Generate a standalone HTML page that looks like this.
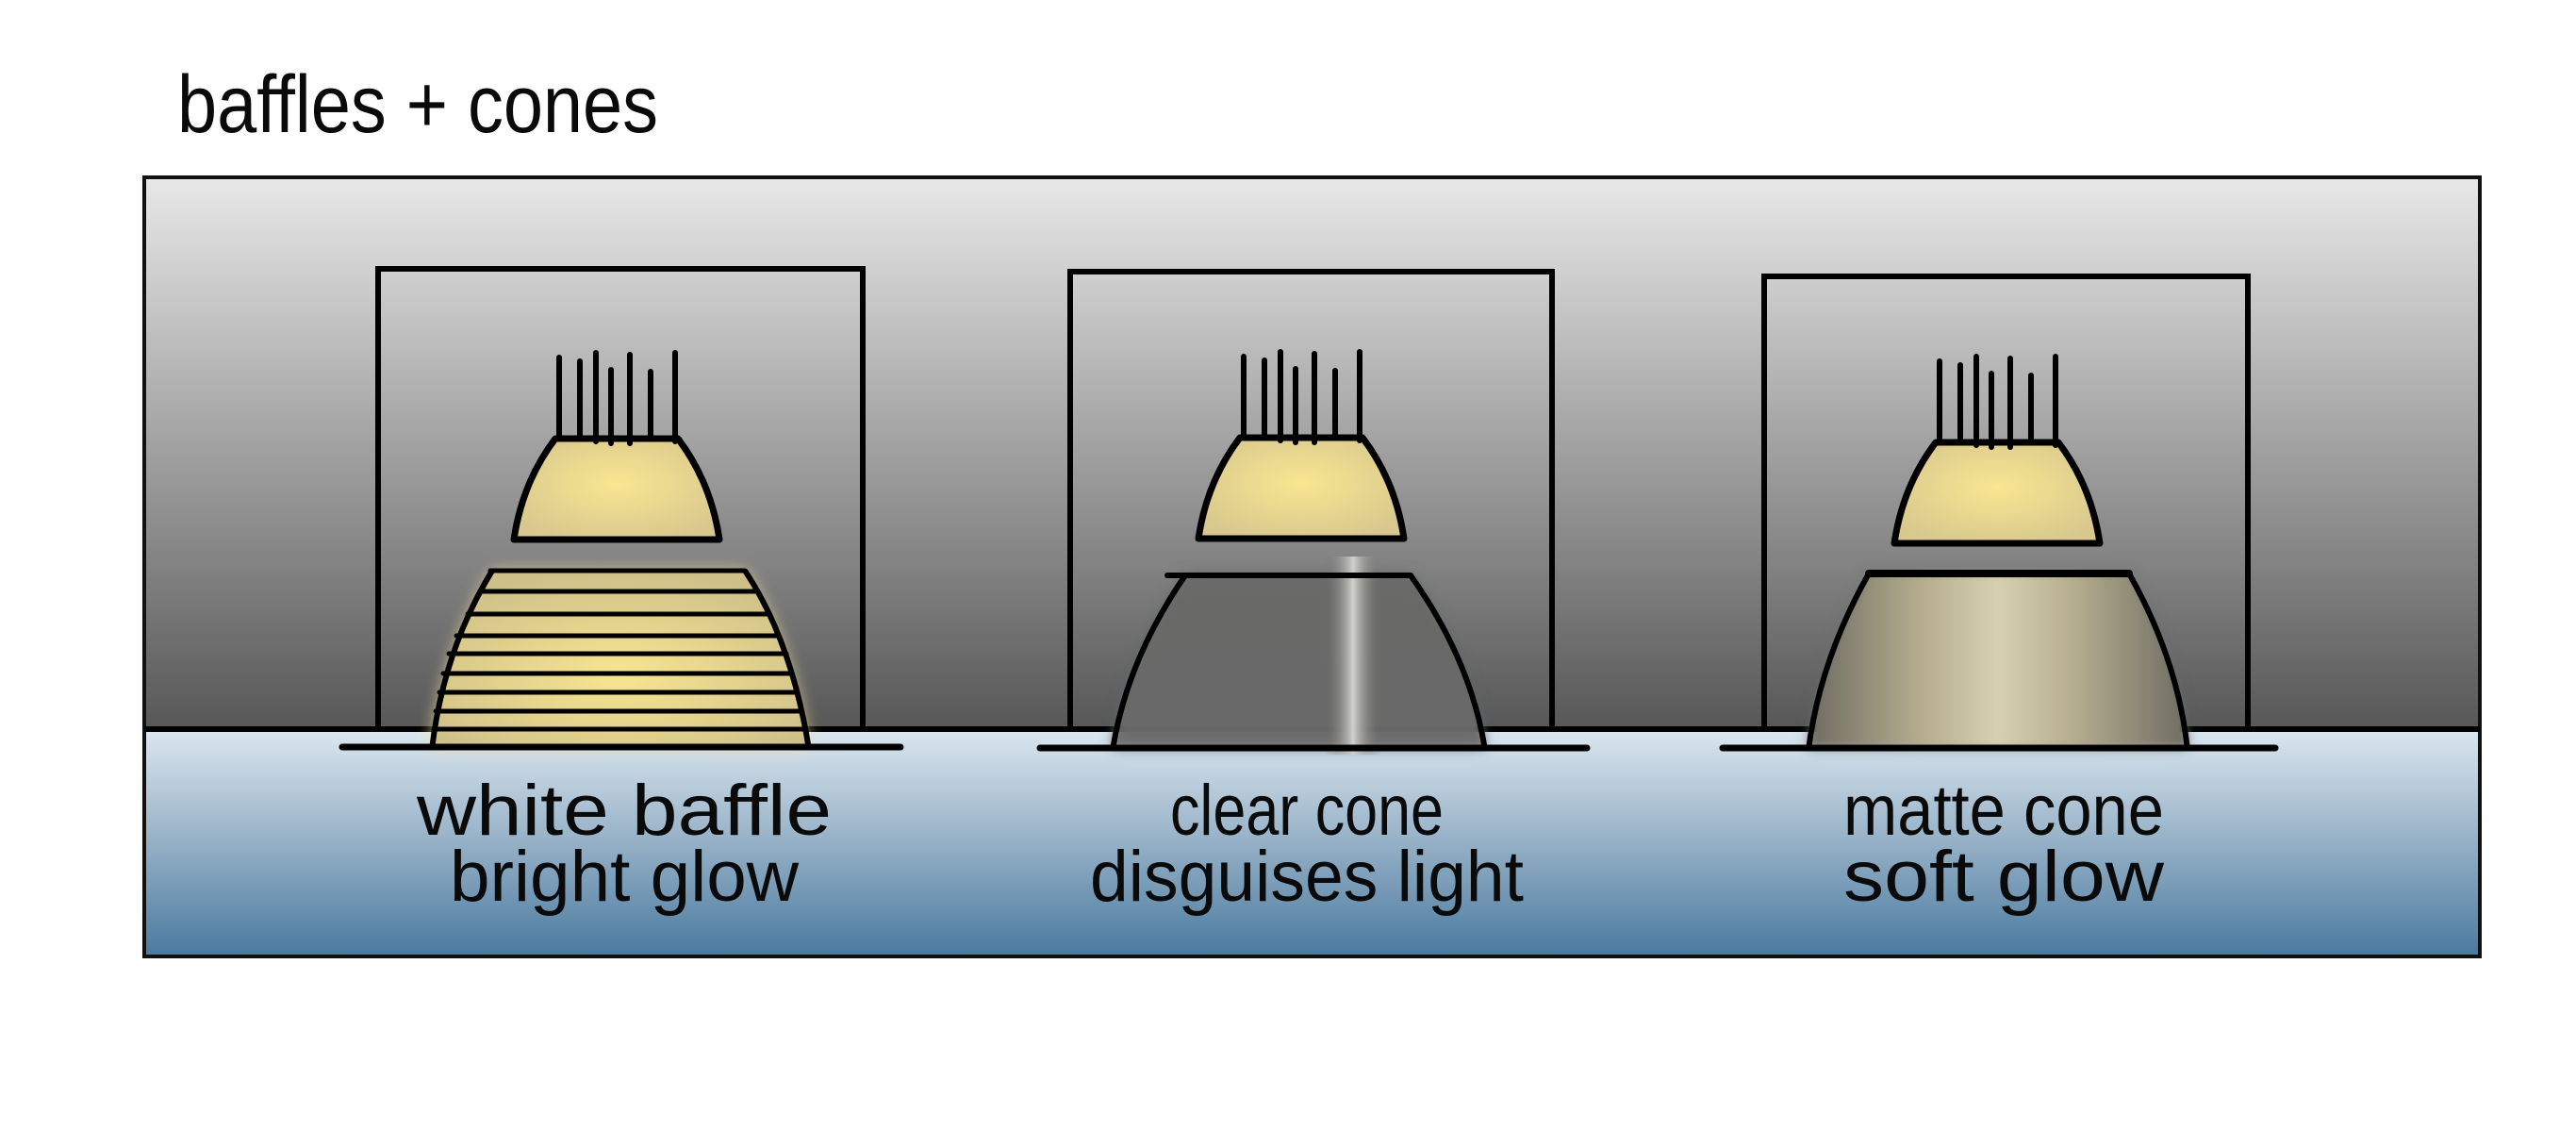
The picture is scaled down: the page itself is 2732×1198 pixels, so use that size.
<!DOCTYPE html>
<html><head><meta charset="utf-8"><style>
html,body{margin:0;padding:0;background:#fff;}
svg{display:block;}
text{font-family:"Liberation Sans Narrow","Liberation Sans",sans-serif;fill:#0a0a0a;}
</style></head><body>
<svg width="2732" height="1198" viewBox="0 0 2732 1198" xmlns="http://www.w3.org/2000/svg">
<defs>
<linearGradient id="ceil" x1="0" y1="0" x2="0" y2="1">
<stop offset="0" stop-color="#e8e8e8"/><stop offset="1" stop-color="#575757"/></linearGradient>
<linearGradient id="floor" x1="0" y1="0" x2="0" y2="1">
<stop offset="0" stop-color="#dce7f0"/><stop offset="0.5" stop-color="#95b0c6"/><stop offset="1" stop-color="#4a7a9f"/></linearGradient>
<radialGradient id="lamp" cx="0.5" cy="0.45" r="0.6">
<stop offset="0" stop-color="#f8e690"/><stop offset="1" stop-color="#d8c88e"/></radialGradient>
<radialGradient id="baf" cx="0.5" cy="0.6" r="0.6">
<stop offset="0" stop-color="#f8e690"/><stop offset="1" stop-color="#cfc08a"/></radialGradient>
<linearGradient id="matte" x1="0" y1="0" x2="1" y2="0">
<stop offset="0" stop-color="#6f6c62"/><stop offset="0.3" stop-color="#b5ad8e"/><stop offset="0.5" stop-color="#d8d1b0"/><stop offset="0.7" stop-color="#b5ad8e"/><stop offset="1" stop-color="#6f6c62"/></linearGradient>
<linearGradient id="stripe" x1="0" y1="0" x2="1" y2="0">
<stop offset="0" stop-color="#6c6c68" stop-opacity="0"/><stop offset="0.5" stop-color="#d0d0cc"/><stop offset="1" stop-color="#6c6c68" stop-opacity="0"/></linearGradient>
<filter id="blur" x="-20%" y="-20%" width="140%" height="140%"><feGaussianBlur stdDeviation="8"/></filter>
<filter id="blur2" x="-20%" y="-20%" width="140%" height="140%"><feGaussianBlur stdDeviation="4"/></filter>
</defs>

<text x="188" y="140" font-size="86" textLength="510" lengthAdjust="spacingAndGlyphs">baffles + cones</text>

<rect x="153" y="188" width="2477" height="585" fill="url(#ceil)"/>
<rect x="153" y="773" width="2477" height="241" fill="url(#floor)"/>
<rect x="153" y="188" width="2477" height="826" fill="none" stroke="#111" stroke-width="4"/>
<line x1="153" y1="773" x2="2630" y2="773" stroke="#000" stroke-width="6"/>

<g fill="none" stroke="#000" stroke-width="6" stroke-linecap="round">
<polyline points="401,773 401,285 915,285 915,773"/>
<polyline points="1135,773 1135,288 1646,288 1646,773"/>
<polyline points="1871,773 1871,293 2384,293 2384,773"/>
</g>

<!-- fixture 1 baffle -->
<path d="M522,605 L790,605 Q840,680 858,792 L456,792 Q470,690 522,605 Z" fill="#f3e39a" opacity="0.8" filter="url(#blur)"/>
<path d="M522,605 L790,605 Q840,680 858,792 L456,792 Q470,690 522,605 Z" fill="url(#baf)"/>
<g stroke="#000" stroke-width="5" stroke-linecap="round">
<line x1="520" y1="605" x2="790" y2="605"/>
<line x1="510" y1="627" x2="802" y2="627"/>
<line x1="496" y1="651" x2="814" y2="651"/>
<line x1="484" y1="674" x2="826" y2="674"/>
<line x1="476" y1="693" x2="834" y2="693"/>
<line x1="470" y1="714" x2="840" y2="714"/>
<line x1="466" y1="734" x2="846" y2="734"/>
<line x1="462" y1="754" x2="850" y2="754"/>
<line x1="460" y1="773" x2="854" y2="773"/>
</g>
<path d="M522,605 Q470,690 458,795 M790,605 Q840,680 858,795" fill="none" stroke="#000" stroke-width="6"/>

<!-- fixture 2 clear cone -->
<path d="M1257,610 L1496,610 Q1560,700 1575,792 L1180,792 Q1195,700 1257,610 Z" fill="#5c6670" opacity="0.7" filter="url(#blur)"/>
<path d="M1257,610 L1496,610 Q1560,700 1575,792 L1180,792 Q1195,700 1257,610 Z" fill="#6b6b68" opacity="0.9" filter="url(#blur2)"/>
<rect x="1405" y="590" width="60" height="210" fill="url(#stripe)"/>
<path d="M1257,610 Q1195,700 1180,795 M1496,610 Q1560,700 1575,795" fill="none" stroke="#000" stroke-width="6"/>
<line x1="1238" y1="610" x2="1496" y2="610" stroke="#000" stroke-width="6" stroke-linecap="round"/>

<!-- fixture 3 matte cone -->
<path d="M1982,608 L2258,608 Q2310,700 2320,792 L1918,792 Q1930,700 1982,608 Z" fill="#5c6670" opacity="0.6" filter="url(#blur)"/>
<path d="M1982,608 L2258,608 Q2310,700 2320,792 L1918,792 Q1930,700 1982,608 Z" fill="url(#matte)" filter="url(#blur2)"/>
<path d="M1982,608 Q1930,700 1918,795 M2258,608 Q2310,700 2320,795" fill="none" stroke="#000" stroke-width="6"/>
<line x1="1982" y1="608" x2="2258" y2="608" stroke="#000" stroke-width="8" stroke-linecap="round"/>

<g stroke="#000" stroke-width="7" stroke-linecap="round">
<line x1="363" y1="792" x2="955" y2="792"/>
<line x1="1103" y1="793" x2="1683" y2="793"/>
<line x1="1827" y1="793" x2="2413" y2="793"/>
</g>

<g stroke="#000" stroke-width="7" stroke-linecap="round" stroke-linejoin="round">
<g transform="translate(654,-4)">
<path d="M-65,469 L65,469 Q100,515 109,576 L-109,576 Q-100,515 -65,469 Z" fill="url(#lamp)"/>
<path d="M-61,469V383 M-39,469V387 M-22,472V378 M-6,474V396 M14,474V380 M36,469V398 M62,472V378" fill="none" stroke-width="6"/>
</g>
<g transform="translate(1380,-5)">
<path d="M-65,469 L65,469 Q100,515 109,576 L-109,576 Q-100,515 -65,469 Z" fill="url(#lamp)"/>
<path d="M-61,469V383 M-39,469V387 M-22,472V378 M-6,474V396 M14,474V380 M36,469V398 M62,472V378" fill="none" stroke-width="6"/>
</g>
<g transform="translate(2118,0)">
<path d="M-65,469 L65,469 Q100,515 109,576 L-109,576 Q-100,515 -65,469 Z" fill="url(#lamp)"/>
<path d="M-61,469V383 M-39,469V387 M-22,472V378 M-6,474V396 M14,474V380 M36,469V398 M62,472V378" fill="none" stroke-width="6"/>
</g>
</g>

<g font-size="76" text-anchor="middle">
<text x="662" y="885" textLength="440" lengthAdjust="spacingAndGlyphs">white baffle</text>
<text x="662" y="955" textLength="370" lengthAdjust="spacingAndGlyphs">bright glow</text>
<text x="1386" y="885" textLength="290" lengthAdjust="spacingAndGlyphs">clear cone</text>
<text x="1386" y="955" textLength="460" lengthAdjust="spacingAndGlyphs">disguises light</text>
<text x="2125" y="885" textLength="340" lengthAdjust="spacingAndGlyphs">matte cone</text>
<text x="2125" y="955" textLength="340" lengthAdjust="spacingAndGlyphs">soft glow</text>
</g>
</svg>
</body></html>
